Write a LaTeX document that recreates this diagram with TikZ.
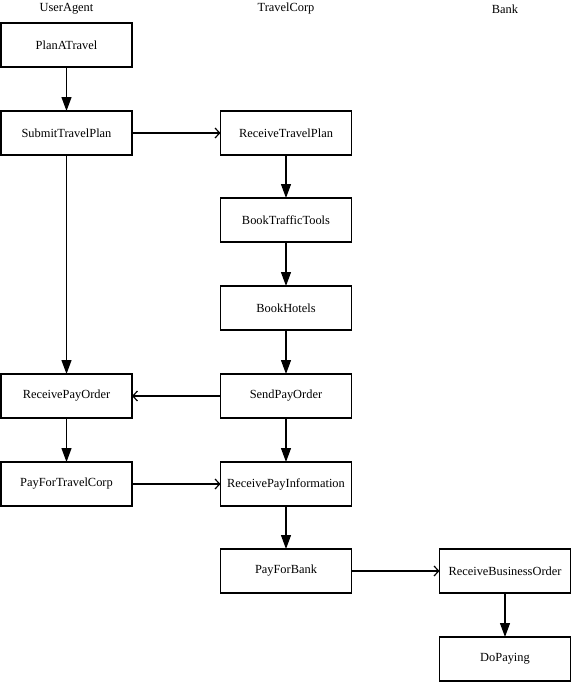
\documentclass[tikz,border=0pt]{standalone}
\usepackage{fontspec}
\setmainfont{Liberation Serif}
\usetikzlibrary{arrows.meta}
\begin{document}
\begin{tikzpicture}[x=0.75pt,y=-0.75pt,
  act/.style={draw,line width=0.9pt,minimum width=98.25pt,minimum height=33pt,inner sep=0pt,outer sep=0pt,font=\fontsize{9.3}{11}\selectfont},
  lane/.style={font=\fontsize{9.3}{11}\selectfont,inner sep=0pt},
  flow/.style={line width=0.9pt,-{Triangle[width=7.5pt,length=10.5pt]}},
  msg/.style={line width=0.9pt,-{Straight Barb[width=7.5pt,length=3.5pt,line width=0.9pt]}}]
\useasboundingbox (0,0) rectangle (572,682);
\node[lane] (ua) at (66.5,9) {UserAgent};
\node[lane] (tc) at (286,9) {TravelCorp};
\node[lane] (bk) at (505,9) {Bank};
\node[act] (pat) at (66.5,45) {PlanATravel};
\node[act] (stp) at (66.5,133) {SubmitTravelPlan};
\node[act] (rtp) at (286,133) {ReceiveTravelPlan};
\node[act] (btt) at (286,220) {BookTrafficTools};
\node[act] (bh) at (286,308) {BookHotels};
\node[act] (spo) at (286,396) {SendPayOrder};
\node[act] (rpo) at (66.5,396) {ReceivePayOrder};
\node[act] (pftc) at (66.5,484) {PayForTravelCorp};
\node[act] (rpi) at (286,484) {ReceivePayInformation};
\node[act] (pfb) at (286,571) {PayForBank};
\node[act] (rbo) at (505,571) {ReceiveBusinessOrder};
\node[act] (dp) at (505,659) {DoPaying};
\draw[flow] (pat) -- (stp);
\draw[msg] (stp) -- (rtp);
\draw[flow] (rtp) -- (btt);
\draw[flow] (btt) -- (bh);
\draw[flow] (bh) -- (spo);
\draw[flow] (stp) -- (rpo);
\draw[msg] (spo) -- (rpo);
\draw[flow] (rpo) -- (pftc);
\draw[msg] (pftc) -- (rpi);
\draw[flow] (spo) -- (rpi);
\draw[flow] (rpi) -- (pfb);
\draw[msg] (pfb) -- (rbo);
\draw[flow] (rbo) -- (dp);
\end{tikzpicture}
\end{document}
